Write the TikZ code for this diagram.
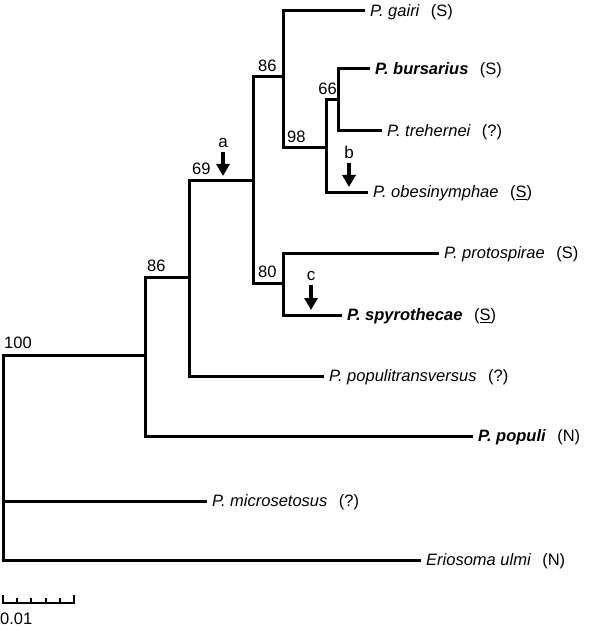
\documentclass[tikz,border=0pt]{standalone}
\usepackage{fontspec}
\setmainfont{Liberation Sans}
\usetikzlibrary{arrows.meta}

\tikzset{
  branch/.style={line width=3pt, line cap=rect},
  taxon/.style={anchor=west, inner xsep=7pt, inner ysep=0pt, text height=11.8pt, text depth=0pt,
    font=\fontsize{16.5}{19}\selectfont\itshape},
  boot/.style={anchor=south west, inner sep=0pt, font=\fontsize{16.5}{19}\selectfont},
  event/.style={anchor=south, inner sep=0pt, font=\fontsize{17}{19}\selectfont},
  change/.style={line width=3.2pt, -{Triangle[width=13pt,length=12pt]}},
}
\newcommand{\habit}[1]{\hspace{0.7em}\mdseries\upshape(#1)}

\begin{document}
\begin{tikzpicture}[x=1pt, y=-1pt]
\useasboundingbox (0,0) rectangle (600,631);

% leaves
\node[taxon] (gairi) at (363,11) {P. gairi\habit{S}};
\node[taxon] (bursarius) at (368,69) {\textbf{P. bursarius}\habit{S}};
\node[taxon] (trehernei) at (380,131) {P. trehernei\habit{?}};
\node[taxon] (obesinymphae) at (366,192) {P. obesinymphae\habit{\underline{S}}};
\node[taxon] (protospirae) at (437,253) {P. protospirae\habit{S}};
\node[taxon] (spyrothecae) at (340,315) {\textbf{P. spyrothecae}\habit{\underline{S}}};
\node[taxon] (populitransversus) at (322,376) {P. populitransversus\habit{?}};
\node[taxon] (populi) at (471,436) {\textbf{P. populi}\habit{N}};
\node[taxon] (microsetosus) at (205,501) {P. microsetosus\habit{?}};
\node[taxon] (eriosoma) at (419,560) {Eriosoma ulmi\habit{N}};

% internal nodes
\coordinate (root) at (3,355);
\coordinate (n100) at (145,355);
\coordinate (n86b) at (189,277);
\coordinate (n69) at (253,180);
\coordinate (n86a) at (283,77);
\coordinate (n98) at (326,148);
\coordinate (n66) at (338,100);
\coordinate (n80) at (283,283);

% branches
\draw[branch] (root) -- (n100);
\draw[branch] (root) |- (microsetosus.west);
\draw[branch] (root) |- (eriosoma.west);
\draw[branch] (n100) |- (n86b);
\draw[branch] (n100) |- (populi.west);
\draw[branch] (n86b) |- (n69);
\draw[branch] (n86b) |- (populitransversus.west);
\draw[branch] (n69) |- (n86a);
\draw[branch] (n69) |- (n80);
\draw[branch] (n86a) |- (gairi.west);
\draw[branch] (n86a) |- (n98);
\draw[branch] (n98) |- (n66);
\draw[branch] (n98) |- (obesinymphae.west);
\draw[branch] (n66) |- (bursarius.west);
\draw[branch] (n66) |- (trehernei.west);
\draw[branch] (n80) |- (protospirae.west);
\draw[branch] (n80) |- (spyrothecae.west);

% bootstrap values
\node[boot] (s100) at (4,349) {100};
\node[boot] (s86b) at (147,272) {86};
\node[boot] (s69) at (192,175) {69};
\node[boot] (s86a) at (258,72) {86};
\node[boot] (s98) at (287,143) {98};
\node[boot, anchor=south east] (s66) at (337,95) {66};
\node[boot] (s80) at (258,278) {80};

% events
\node[event] (ea) at (223,148) {a};
\node[event] (eb) at (349,159) {b};
\node[event] (ec) at (311,281) {c};
\coordinate (ta) at (223,176);
\coordinate (tb) at (349,187);
\coordinate (tc) at (311,310);
\draw[change] ([yshift=-4pt]ea.south) -- (ta);
\draw[change] ([yshift=-4pt]eb.south) -- (tb);
\draw[change] ([yshift=-4pt]ec.south) -- (tc);

% scale bar
\draw[line width=2pt] (3,595) -- (3,603) -- (74,603) -- (74,595);
\foreach \t in {1,...,4}
  \draw[line width=2pt] (3+14.2*\t,598) -- (3+14.2*\t,603);
\node[boot, anchor=north west] (unit) at (0,613) {0.01};

\end{tikzpicture}
\end{document}
